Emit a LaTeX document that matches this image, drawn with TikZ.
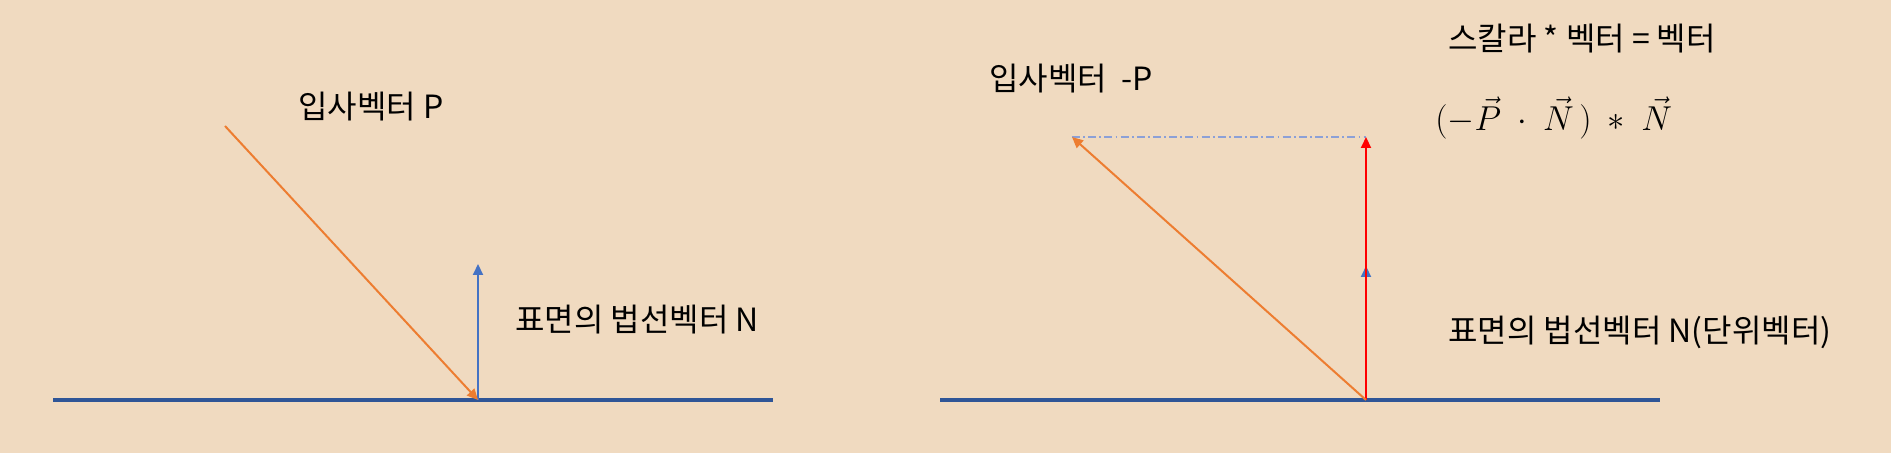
\documentclass[tikz,border=0pt]{standalone}
\usepackage{fontspec}
\setmainfont{Noto Sans CJK KR}
\usepackage{amsmath}
\usetikzlibrary{arrows.meta,positioning}

\definecolor{paper}{RGB}{240,218,192}
\definecolor{orangevec}{RGB}{237,125,49}
\definecolor{bluevec}{RGB}{68,114,196}
\definecolor{surfaceblue}{RGB}{47,85,151}
\definecolor{guideblue}{RGB}{140,160,215}

\begin{document}
\begin{tikzpicture}[
    x = 0.5pt, y = -0.5pt, % pixel grid of the reference
    >/.tip = {Triangle[length=5.5pt, width=5pt]}, % arrow head style
    font = \fontsize{16}{19}\selectfont,
    label/.style = {inner sep = 0pt, anchor = west},
    surface/.style = {surfaceblue, line width = 1.8pt},
    vec/.style = {->, line width = 1pt}
    ]

    % background and margins
    \fill[paper] (0,0) rectangle (1891,453);
    \useasboundingbox (0,0) rectangle (1891,453);

    % left: incident vector and surface normal
    \coordinate (s1) at (53,400);
    \coordinate (s2) at (773,400);
    \coordinate (o1) at (478,400);
    \coordinate (n1) at (478,264);
    \coordinate (p1) at (225,126);
    \draw[surface] (s1) -- (s2);
    \draw[vec, bluevec] (o1) -- (n1);
    \draw[vec, orangevec] (p1) -- (o1);
    \node[label] (lblP) at (298,107) {입사벡터 P};
    \node[label] (lblN) at (515,320) {표면의 법선벡터 N};

    % right: -P and its projection onto N
    \coordinate (s3) at (940,400);
    \coordinate (s4) at (1660,400);
    \coordinate (o2) at (1366,400);
    \coordinate (n2) at (1366,266);
    \coordinate (r2) at (1366,137);
    \coordinate (p2) at (1072,137);
    \draw[surface] (s3) -- (s4);
    \draw[guideblue, line width = 0.8pt,
          dash pattern = on 4pt off 1.6pt on 0.9pt off 1.6pt] (p2) -- (r2);
    \draw[vec, bluevec] (o2) -- (n2);
    \draw[vec, red] (o2) -- (r2);
    \draw[vec, orangevec] (o2) -- (p2);
    \node[label] (lblP2) at (989,79) {입사벡터 \ -P};
    \node[label] (lblScalar) at (1448,39) {스칼라 * 벡터 = 벡터};
    \node[label, font = \fontsize{19}{22}\selectfont] (formula) at (1435,118)
        {$(-\vec{P}\ \cdot\ \vec{N}\,)\ *\ \vec{N}$};
    \node[label] (lblN2) at (1448,332) {표면의 법선벡터 N(단위벡터)};
\end{tikzpicture}
\end{document}
